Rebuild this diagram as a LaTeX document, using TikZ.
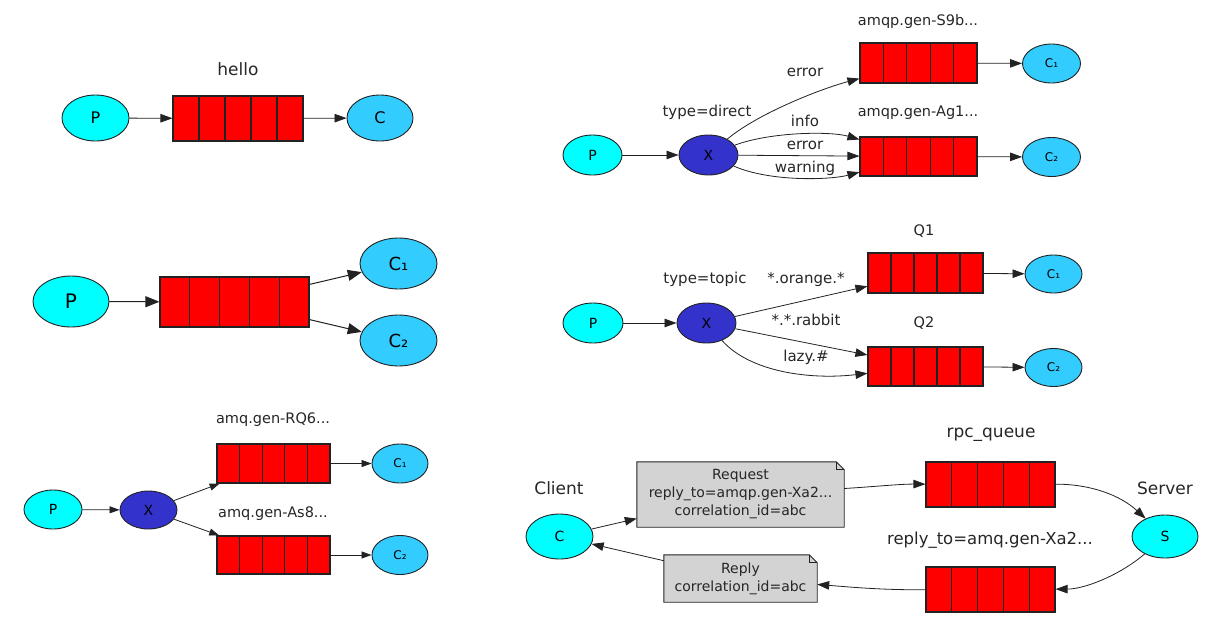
\documentclass[tikz,border=0pt]{standalone}
\usepackage{fontspec}
\setmainfont{DejaVu Sans}
\usetikzlibrary{shapes.geometric,arrows.meta,calc,backgrounds}
\definecolor{prod}{HTML}{00FFFF}
\definecolor{cons}{HTML}{33CCFF}
\definecolor{exch}{HTML}{3333CC}
\definecolor{qred}{HTML}{FF0000}
\definecolor{notegray}{HTML}{D3D3D3}
\definecolor{ln}{HTML}{222222}
\newcommand{\fs}[1]{\fontsize{#1}{#1}\selectfont}
\begin{document}
\begin{tikzpicture}[x=1pt,y=-1pt,
  sz/.style 2 args={minimum width=#1pt,minimum height=#2pt},
  ell/.style={ellipse, draw=ln, line width=0.9pt, inner sep=0pt, text=black},
  prodn/.style={ell, fill=prod},
  consn/.style={ell, fill=cons},
  exchn/.style={ell, fill=exch},
  queue/.style={draw=ln, line width=1.1pt, fill=qred, inner sep=0pt,
    path picture={\foreach \i in {1,2,3,4}{\draw[ln, line width=1.1pt]
      ($(path picture bounding box.north west)!\i/5!(path picture bounding box.north east)$) --
      ($(path picture bounding box.south west)!\i/5!(path picture bounding box.south east)$);}}},
  edge/.style={draw=ln, line width=0.8pt, -{Triangle[length=12pt,width=8.5pt]}},
  edgeL/.style={draw=ln, line width=1pt, -{Triangle[length=14pt,width=11pt]}},
  edgeS/.style={draw=ln, line width=0.8pt, -{Triangle[length=10pt,width=7pt]}},
  lbl/.style={inner sep=0pt, text=black!85},
  notebox/.style={fill=notegray, draw=ln, line width=0.9pt}
]
\useasboundingbox (0,0) rectangle (1225,640);

% ---------- panel 1: hello ----------
\node[prodn, sz={67}{46}, font=\fs{16}] (p1) at (95.5,118) {P};
\node[queue, sz={130}{45}] (q1) at (238,118.5) {};
\node[consn, sz={66}{46}, font=\fs{16}] (c1) at (380,118) {C};
\node[lbl, font=\fs{17}] (l1) at (238,69) {hello};
\draw[edge] (p1) -- (q1);
\draw[edge] (q1) -- (c1);

% ---------- panel 2: work queue ----------
\node[prodn, sz={76}{51}, font=\fs{20}] (p2) at (71,301.5) {P};
\node[queue, sz={149}{50}] (q2) at (234.5,302) {};
\node[consn, sz={77}{51}, font=\fs{18}] (c21) at (398.5,263.5) {C₁};
\node[consn, sz={77}{51}, font=\fs{18}] (c22) at (398.5,340.5) {C₂};
\draw[edgeL] (p2) -- (q2);
\draw[edgeL] (q2) -- (c21);
\draw[edgeL] (q2) -- (c22);

% ---------- panel 3: fanout ----------
\node[prodn, sz={58}{39}, font=\fs{14}] (p3) at (53,509.5) {P};
\node[exchn, sz={57}{38}, font=\fs{14}] (x3) at (148.5,510) {X};
\node[queue, sz={113}{39}] (q31) at (273.5,463.5) {};
\node[queue, sz={113}{38}] (q32) at (273.5,555) {};
\node[consn, sz={56}{39}, font=\fs{12}] (c31) at (400,463.5) {C₁};
\node[consn, sz={56}{39}, font=\fs{12}] (c32) at (400,555) {C₂};
\node[lbl, font=\fs{14.5}] (l31) at (273,420) {amq.gen-RQ6...};
\node[lbl, font=\fs{14.5}] (l32) at (273,514) {amq.gen-As8...};
\draw[edgeS] (p3) -- (x3);
\draw[edgeS] (x3) -- (q31);
\draw[edgeS] (x3) -- (q32);
\draw[edgeS] (q31) -- (c31);
\draw[edgeS] (q32) -- (c32);

% ---------- panel 4: direct ----------
\node[prodn, sz={59}{40}, font=\fs{14}] (p4) at (592.5,155) {P};
\node[exchn, sz={59}{40}, font=\fs{14}] (x4) at (708.5,155) {X};
\node[queue, sz={117}{40}] (q41) at (918.5,63) {};
\node[queue, sz={117}{39}] (q42) at (918.5,156.5) {};
\node[consn, sz={58}{39}, font=\fs{12}] (c41) at (1051.5,63.5) {C₁};
\node[consn, sz={58}{39}, font=\fs{12}] (c42) at (1051.5,157) {C₂};
\node[lbl, font=\fs{14.5}] (l41) at (918,21) {amqp.gen-S9b...};
\node[lbl, font=\fs{14.5}] (l42) at (918,113) {amqp.gen-Ag1...};
\node[lbl, font=\fs{15}] (t4) at (707,112) {type=direct};
\node[lbl, font=\fs{15}] (e41) at (805,72) {error};
\node[lbl, font=\fs{15}] (e42) at (805,121) {info};
\node[lbl, font=\fs{15}] (e43) at (805,145) {error};
\node[lbl, font=\fs{15}] (e44) at (805,168) {warning};
\draw[edge] (p4) -- (x4);
\draw[edge] (x4) .. controls (757,114) and (820,89) .. (q41);
\draw[edge] (x4) .. controls (770,132) and (830,131) .. (q42);
\draw[edge] (x4) -- (q42);
\draw[edge] (x4) .. controls (770,182) and (830,180) .. (q42);
\draw[edge] (q41) -- (c41);
\draw[edge] (q42) -- (c42);

% ---------- panel 5: topic ----------
\node[prodn, sz={60}{40}, font=\fs{14}] (p5) at (593,323) {P};
\node[exchn, sz={59}{40}, font=\fs{14}] (x5) at (706.5,323) {X};
\node[queue, sz={115}{40}] (q51) at (925.5,273) {};
\node[queue, sz={115}{39}] (q52) at (925.5,366.5) {};
\node[consn, sz={57}{38}, font=\fs{12}] (c51) at (1053.5,274) {C₁};
\node[consn, sz={57}{38}, font=\fs{12}] (c52) at (1053.5,367.5) {C₂};
\node[lbl, font=\fs{14.5}] (l51) at (924,231) {Q1};
\node[lbl, font=\fs{14.5}] (l52) at (924,323) {Q2};
\node[lbl, font=\fs{15}] (t5) at (705,279) {type=topic};
\node[lbl, font=\fs{15}] (e51) at (806,279) {*.orange.*};
\node[lbl, font=\fs{15}] (e52) at (806,320) {*.*.rabbit};
\node[lbl, font=\fs{15}] (e53) at (806,357) {lazy.\#};
\draw[edge] (p5) -- (x5);
\draw[edge] (x5) -- (q51);
\draw[edge] (x5) -- (q52);
\draw[edge] (x5) .. controls (750,372) and (810,380) .. (q52);
\draw[edge] (q51) -- (c51);
\draw[edge] (q52) -- (c52);

% ---------- panel 6: RPC ----------
\node[prodn, sz={67}{45}, font=\fs{14}] (cl) at (559.5,536.5) {C};
\node[prodn, sz={66}{43}, font=\fs{14}] (sv) at (1165,536.5) {S};
\node[lbl, font=\fs{17}] (lcl) at (559,488) {Client};
\node[lbl, font=\fs{17}] (lsv) at (1165,488) {Server};
\node[queue, sz={129}{45}] (rq) at (990.5,484.5) {};
\node[queue, sz={129}{45}] (pq) at (990.5,589.5) {};
\node[lbl, font=\fs{17}] (lrq) at (991,435) {rpc\_queue};
\node[lbl, font=\fs{16.5}] (lpq) at (990,540) {reply\_to=amq.gen-Xa2...};
\node[lbl, sz={207}{65}, align=center, font=\fontsize{14}{18}\selectfont] (req) at (740.5,494.5)
  {Request\\reply\_to=amqp.gen-Xa2...\\correlation\_id=abc};
\node[lbl, sz={153}{47}, align=center, font=\fontsize{14}{18}\selectfont] (rep) at (740.5,578.5)
  {Reply\\correlation\_id=abc};
\begin{scope}[on background layer]
  \filldraw[notebox] (req.north west) -- ($(req.north east)+(-8,0)$) -- ($(req.north east)+(0,8)$)
    -- (req.south east) -- (req.south west) -- cycle;
  \draw[ln, line width=0.8pt] ($(req.north east)+(-8,0)$) -- ($(req.north east)+(-8,8)$) -- ($(req.north east)+(0,8)$);
  \filldraw[notebox] (rep.north west) -- ($(rep.north east)+(-8,0)$) -- ($(rep.north east)+(0,8)$)
    -- (rep.south east) -- (rep.south west) -- cycle;
  \draw[ln, line width=0.8pt] ($(rep.north east)+(-8,0)$) -- ($(rep.north east)+(-8,8)$) -- ($(rep.north east)+(0,8)$);
\end{scope}
\draw[edge] (cl) -- (req);
\draw[edge] (req) .. controls (870,487) and (900,484) .. (rq);
\draw[edge] (rq) .. controls (1090,484) and (1120,495) .. (sv);
\draw[edge] (sv) .. controls (1120,575) and (1085,589) .. (pq);
\draw[edge] (pq) .. controls (880,590) and (850,587) .. (rep);
\draw[edge] (rep) -- (cl);
\end{tikzpicture}
\end{document}
